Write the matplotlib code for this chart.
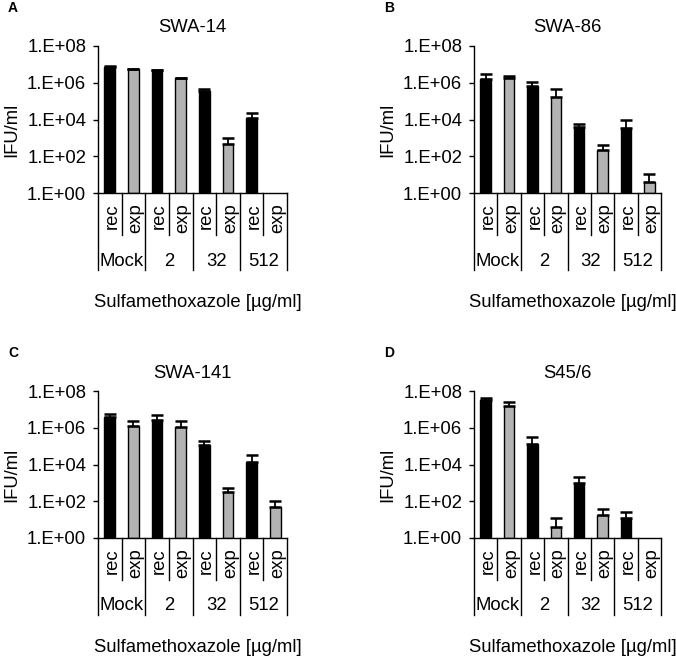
import numpy as np
import matplotlib
matplotlib.use("Agg")
import matplotlib.pyplot as plt

plt.rcParams["font.family"] = ["Liberation Sans", "DejaVu Sans"]

groups = ["Mock", "2", "32", "512"]
conditions = ["rec", "exp"]
titles = ["SWA-14", "SWA-86", "SWA-141", "S45/6"]
letters = ["A", "B", "C", "D"]
yticks = [1e0, 1e2, 1e4, 1e6, 1e8]
ytick_labels = ["1.E+00", "1.E+02", "1.E+04", "1.E+06", "1.E+08"]
xlabel = "Sulfamethoxazole [µg/ml]"
ylabel = "IFU/ml"

# order: rec/exp for Mock, 2, 32, 512 (nan = no bar)
swa14_vals = [7.6e6, 5.7e6, 4.8e6, 1.8e6, 3.4e5, 470, 1.2e4, np.nan]
swa14_err = [0.3e6, 0.2e6, 0.2e6, 0.1e6, 1.4e5, 510, 1.0e4, np.nan]

swa86_vals = [1.6e6, 1.8e6, 6.9e5, 1.75e5, 3.7e3, 210, 3.5e3, 4.1]
swa86_err = [1.5e6, 0.6e6, 4.1e5, 2.75e5, 1.7e3, 180, 5.4e3, 7]

swa141_vals = [3.9e6, 1.2e6, 2.6e6, 1.1e6, 1.2e5, 310, 1.4e4, 46]
swa141_err = [2.0e6, 1.2e6, 2.2e6, 1.3e6, 0.6e5, 220, 2.1e4, 58]

s45_vals = [3.3e7, 1.5e7, 1.3e5, 4.1, 980, 17, 13, np.nan]
s45_err = [0.7e7, 0.9e7, 1.7e5, 8, 1.1e3, 23, 13, np.nan]

panels = [
    (swa14_vals, swa14_err),
    (swa86_vals, swa86_err),
    (swa141_vals, swa141_err),
    (s45_vals, s45_err),
]

W, H = 676, 659
fig = plt.figure(figsize=(W / 100, H / 100), dpi=100)

# axes boxes in pixels: left, top, right, bottom
boxes = [(98, 46, 287, 193), (474, 46, 661, 193),
         (98, 391, 287, 538), (474, 391, 661, 538)]
fs = 13.3
bar_colors = ["black", "#b3b3b3"]

for i, (vals, err) in enumerate(panels):
    l, t, r, b = boxes[i]
    ax = fig.add_axes([l / W, 1 - b / H, (r - l) / W, (b - t) / H])
    ah = b - t
    n = len(vals)
    x = np.arange(n)
    vals = np.array(vals, dtype=float)
    err = np.array(err, dtype=float)
    colors = [bar_colors[k % 2] for k in range(n)]
    ax.bar(x, vals - 1, bottom=1, width=0.45, color=colors,
           edgecolor="black", linewidth=1.0, zorder=2)
    ax.errorbar(x, vals, yerr=[np.zeros(n), err], fmt="none",
                ecolor="black", elinewidth=1.3, capsize=4, capthick=1.8, zorder=3)
    ax.set_yscale("log")
    ax.set_ylim(1, 1e8)
    ax.set_xlim(-0.5, n - 0.5)
    ax.set_yticks(yticks)
    ax.set_yticklabels(ytick_labels, fontsize=fs)
    ax.minorticks_off()
    ax.set_xticks([])
    ax.tick_params(axis="y", direction="out", length=3.5, width=1.0, pad=5)
    for s in ["top", "right"]:
        ax.spines[s].set_visible(False)
    for s in ["left", "bottom"]:
        ax.spines[s].set_linewidth(1.0)

    # multi-level category labels below the axis
    tr = ax.get_xaxis_transform()
    row1 = -42 / ah
    row2 = -77 / ah
    for k in range(n + 1):
        y_end = row2 if k % 2 == 0 else row1
        ax.plot([k - 0.5, k - 0.5], [0, y_end], color="black", lw=1.0,
                transform=tr, clip_on=False)
    for k in range(n):
        ax.text(k + 0.1, -10 / ah, conditions[k % 2], rotation=90,
                ha="center", va="top", fontsize=fs, transform=tr)
    for g, name in enumerate(groups):
        ax.text(2 * g + 0.5, -68 / ah, name, ha="center", va="center",
                fontsize=fs, transform=tr)

    cx = (l + r) / 2
    fig.text(cx / W, 1 - (t - 18) / H, titles[i], ha="center", va="center",
             fontsize=fs)
    fig.text((cx + 5) / W, 1 - (b + 110) / H, xlabel, ha="center",
             va="center", fontsize=fs)
    fig.text((l - 86) / W, 1 - (t + 84) / H, ylabel, ha="center",
             va="center", rotation=90, fontsize=fs)
    fig.text((l - 90) / W, 1 - (t - 38) / H, letters[i], ha="left",
             va="center", fontsize=10, fontweight="bold")

fig.savefig("out.png", dpi=100)
